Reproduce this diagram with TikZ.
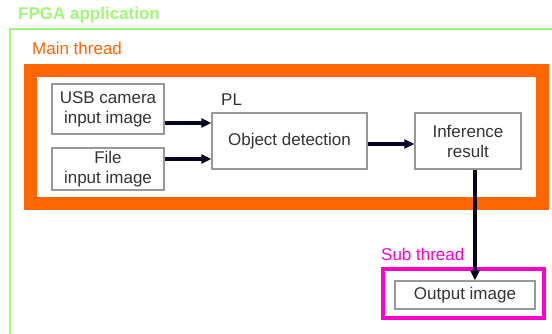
\documentclass[tikz,border=0pt]{standalone}
\usepackage{fontspec}
\setmainfont{Liberation Sans}
\usetikzlibrary{arrows.meta,calc}
\definecolor{fgreen}{HTML}{A0F878}
\definecolor{morange}{HTML}{FF6600}
\definecolor{smag}{HTML}{FF00CC}
\definecolor{bgray}{HTML}{999999}
\definecolor{tgray}{HTML}{333333}
\definecolor{arrc}{HTML}{050520}
\begin{document}
\begin{tikzpicture}[x=1pt,y=-1pt,
  font=\fontsize{17}{20}\selectfont,
  box/.style={draw=bgray,line width=1.4pt,fill=white,text=tgray,align=center,inner sep=0pt},
  arr/.style={draw=arrc,line width=3.4pt,-{Triangle[length=10pt,width=9pt]}},
  lab/.style={anchor=west,inner sep=0pt}]
\path[use as bounding box] (0,0) rectangle (552,334);
% FPGA application frame
\coordinate (gtr) at (552,29);
\coordinate (gtl) at (10,29);
\coordinate (gbl) at (10,334);
\draw[fgreen,line width=2pt] (gtr) -- (gtl) -- (gbl);
\node[lab,text=fgreen,font=\fontsize{17}{20}\selectfont\bfseries] (fpga) at (18,15) {FPGA application};
% Main thread
\node[lab,text=morange] (mainlab) at (32,48) {Main thread};
\draw[morange,line width=13pt] (30.5,70.5) rectangle (542,204);
% Sub thread
\node[lab,text=smag] (sublab) at (381,254) {Sub thread};
\draw[smag,line width=4pt] (383,269) rectangle (544,318);
% boxes
\node[box,minimum width=112pt,minimum height=50pt] (usb) at (108,109) {USB camera\\input image};
\node[box,minimum width=112pt,minimum height=42pt] (file) at (108,169) {File\\input image};
\node[box,minimum width=155pt,minimum height=56pt] (obj) at (289.5,141) {Object detection};
\node[box,minimum width=106pt,minimum height=56pt] (inf) at (468,141) {Inference\\result};
\node[box,minimum width=140pt,minimum height=28pt] (out) at (465,295) {Output image};
\node[lab,text=tgray] (pl) at (221,100) {PL};
% arrows
\coordinate (a1) at ($(usb.east)+(0,14)$);
\coordinate (a2) at ($(file.east)+(0,-10)$);
\coordinate (a3) at ($(obj.east)+(0,3)$);
\coordinate (a4) at ($(inf.south)+(7,0)$);
\draw[arr] (a1) -- (a1 -| obj.west);
\draw[arr] (a2) -- (a2 -| obj.west);
\draw[arr] (a3) -- (a3 -| inf.west);
\draw[arr] (a4) -- (a4 |- out.north);
\end{tikzpicture}
\end{document}
